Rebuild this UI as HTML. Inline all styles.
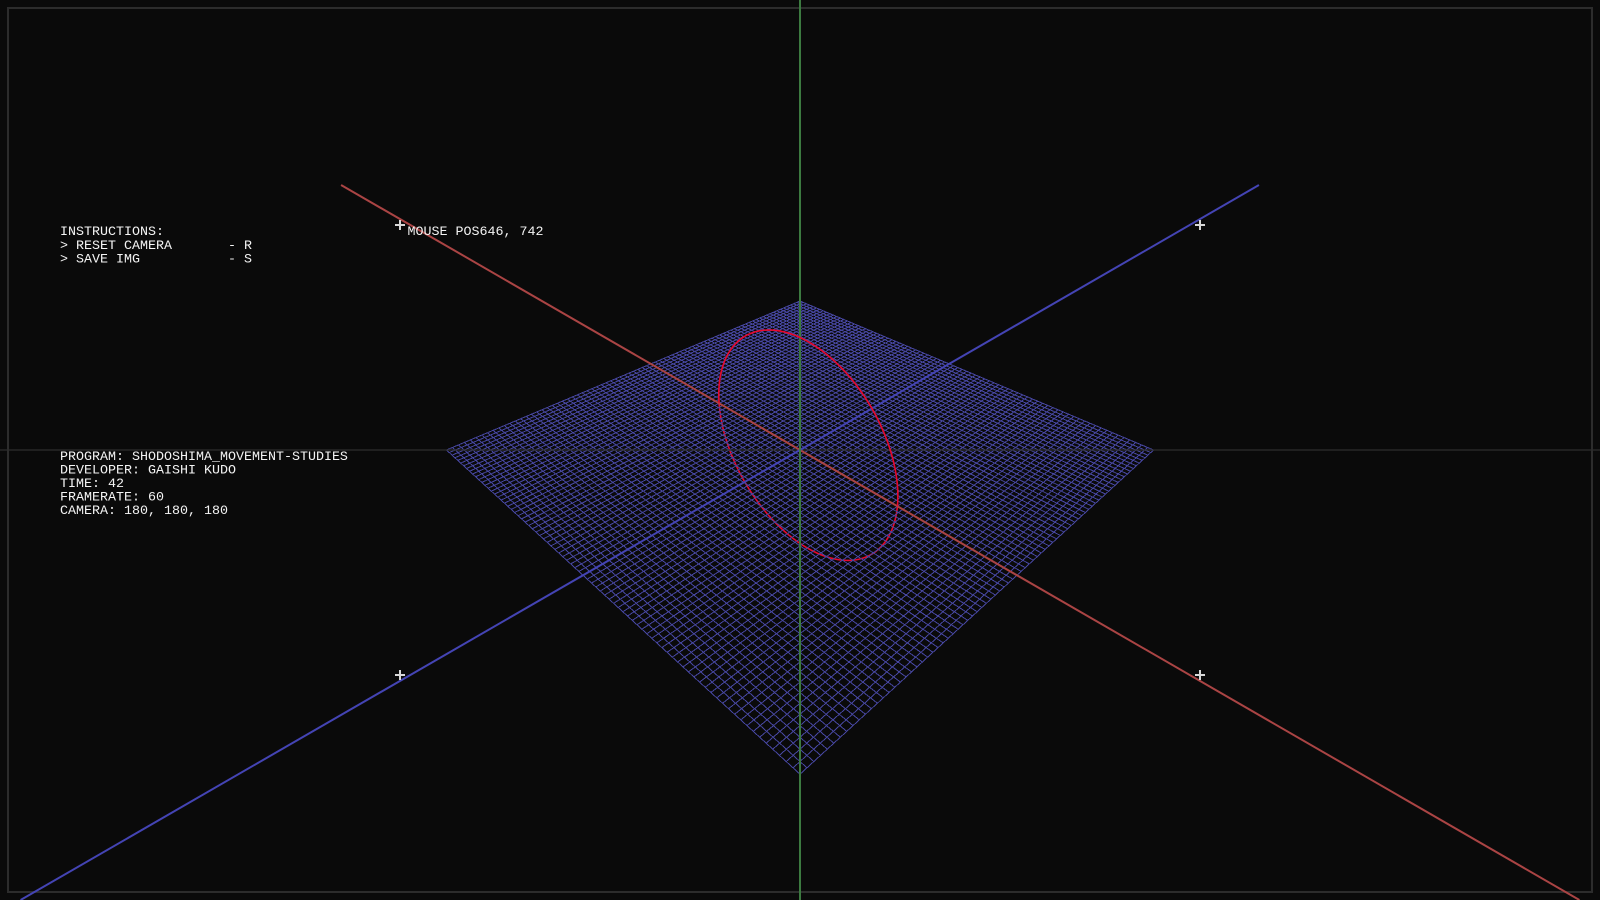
<!DOCTYPE html>
<html lang="en">
<head>
<meta charset="utf-8">
<title>Shodoshima Movement Studies</title>
<style>
html,body{margin:0;padding:0;background:#0a0a0a;width:1600px;height:900px;overflow:hidden}
svg{display:block;position:absolute;left:0;top:0;overflow:hidden}
text{font-family:"Liberation Mono",monospace;font-size:13.33px;fill:#f4f4f4;white-space:pre}
</style>
</head>
<body>
<svg id="scene" width="1600" height="900" viewBox="0 0 1600 900" xmlns="http://www.w3.org/2000/svg">
  <rect x="0" y="0" width="1600" height="900" fill="#0a0a0a"/>
  <g id="circle-lower"></g>
  <g id="grid"></g>
  <g id="hud-lines">
    <rect x="8" y="8" width="1584" height="884" fill="none" stroke="#2c2c2c" stroke-width="2"/>
    <line x1="0" y1="450" x2="1600" y2="450" stroke="#2e2e2e" stroke-width="1.5" stroke-opacity="0.85"/>
  </g>
  <g id="axes"></g>
  <g id="circle-upper"></g>
  <g id="crosses"></g>
  <g>
    <text x="60" y="235">INSTRUCTIONS:</text>
    <text x="60" y="249">&gt; RESET CAMERA       - R</text>
    <text x="60" y="262.5">&gt; SAVE IMG           - S</text>
  </g>
  <text x="407.5" y="235">MOUSE POS646, 742</text>
  <g>
    <text x="60" y="460">PROGRAM: SHODOSHIMA_MOVEMENT-STUDIES</text>
    <text x="60" y="473.5">DEVELOPER: GAISHI KUDO</text>
    <text x="60" y="487">TIME: 42</text>
    <text x="60" y="500.5">FRAMERATE: 60</text>
    <text x="60" y="514">CAMERA: 180, 180, 180</text>
  </g>
</svg>
<script>
var cameraPosition = [180, 180, 180];
var gridExtent = [-100, 100];
var gridDivisions = [80];
var axisRange = [-500, 400];
var circleRadius = [50];
var crossFractions = [0.25, 0.75];

var SVGNS = 'http://www.w3.org/2000/svg';
var W = 1600, H = 900;
var focal = (H / 2) / Math.tan(Math.PI / 6);
var camD = Math.sqrt(cameraPosition[0] * cameraPosition[0] + cameraPosition[1] * cameraPosition[1] + cameraPosition[2] * cameraPosition[2]);

function project(x, y, z) {
  var depth = camD - (x + y + z) / Math.sqrt(3);
  var vx = (x - z) / Math.SQRT2;
  var vy = (-x + 2 * y - z) / Math.sqrt(6);
  return [W / 2 + focal * vx / depth, H / 2 - focal * vy / depth];
}

/* clip a screen segment to the viewport so nothing extends past the frame */
function clipToViewport(a, b) {
  var t0 = 0, t1 = 1;
  var dx = b[0] - a[0], dy = b[1] - a[1];
  var p = [-dx, dx, -dy, dy];
  var q = [a[0], W - a[0], a[1], H - a[1]];
  for (var k = 0; k < 4; k++) {
    if (p[k] === 0) { continue; }
    var r = q[k] / p[k];
    if (p[k] < 0) { t0 = Math.max(t0, r); } else { t1 = Math.min(t1, r); }
  }
  return [[a[0] + dx * t0, a[1] + dy * t0], [a[0] + dx * t1, a[1] + dy * t1]];
}

function makeLine(parent, a, b, color, width) {
  var el = document.createElementNS(SVGNS, 'line');
  el.setAttribute('x1', a[0].toFixed(2));
  el.setAttribute('y1', a[1].toFixed(2));
  el.setAttribute('x2', b[0].toFixed(2));
  el.setAttribute('y2', b[1].toFixed(2));
  el.setAttribute('stroke', color);
  el.setAttribute('stroke-width', width);
  parent.appendChild(el);
  return el;
}

function makeAxis(parent, a, b, color) {
  var seg = clipToViewport(a, b);
  return makeLine(parent, seg[0], seg[1], color, 2);
}

/* grid */
var gridGroup = document.getElementById('grid');
var gridLo = gridExtent[0], gridHi = gridExtent[1], gridN = gridDivisions[0];
for (var i = 0; i <= gridN; i++) {
  var t = gridLo + (gridHi - gridLo) * i / gridN;
  var g1 = makeLine(gridGroup, project(t, 0, gridLo), project(t, 0, gridHi), '#4646a0', 1);
  
  
  g1.setAttribute('shape-rendering', 'crispEdges');
  var g2 = makeLine(gridGroup, project(gridLo, 0, t), project(gridHi, 0, t), '#4646a0', 1);
  
  
  g2.setAttribute('shape-rendering', 'crispEdges');
}

/* axes */
var axesGroup = document.getElementById('axes');
var xAxis = makeAxis(axesGroup, project(axisRange[0], 0, 0), project(axisRange[1], 0, 0), '#aa4444');


var zAxis = makeAxis(axesGroup, project(0, 0, axisRange[0]), project(0, 0, axisRange[1]), '#4444b4');


var yAxis = makeAxis(axesGroup, project(0, axisRange[0], 0), project(0, axisRange[1], 0), '#3c7a40');



/* circle in the plane of red and green axes */
function circlePath(fromDeg, toDeg) {
  var d = '';
  for (var deg = fromDeg; deg <= toDeg; deg += 2) {
    var r = deg * Math.PI / 180;
    var p = project(circleRadius[0] * Math.cos(r), circleRadius[0] * Math.sin(r), 0);
    d += (d ? 'L' : 'M') + p[0].toFixed(2) + ' ' + p[1].toFixed(2);
  }
  return d;
}
var upperPath = document.createElementNS(SVGNS, 'path');
upperPath.setAttribute('d', circlePath(0, 180));
upperPath.setAttribute('fill', 'none');
upperPath.setAttribute('stroke', '#e8082c');
upperPath.setAttribute('stroke-width', '1.6');


document.getElementById('circle-upper').appendChild(upperPath);

var lowerPath = document.createElementNS(SVGNS, 'path');
lowerPath.setAttribute('d', circlePath(180, 360));
lowerPath.setAttribute('fill', 'none');
lowerPath.setAttribute('stroke', '#e8082c');
lowerPath.setAttribute('stroke-width', '1.6');


document.getElementById('circle-lower').appendChild(lowerPath);

/* crosshair markers */
var crossGroup = document.getElementById('crosses');
crossFractions.forEach(function (fy) {
  crossFractions.forEach(function (fx) {
    var cx = W * fx, cy = H * fy;
    var h = makeLine(crossGroup, [cx - 5, cy], [cx + 5, cy], '#d8d8d8', 2);
    
    
    var v = makeLine(crossGroup, [cx, cy - 5], [cx, cy + 5], '#d8d8d8', 2);
    
    
  });
});
</script>
</body>
</html>
